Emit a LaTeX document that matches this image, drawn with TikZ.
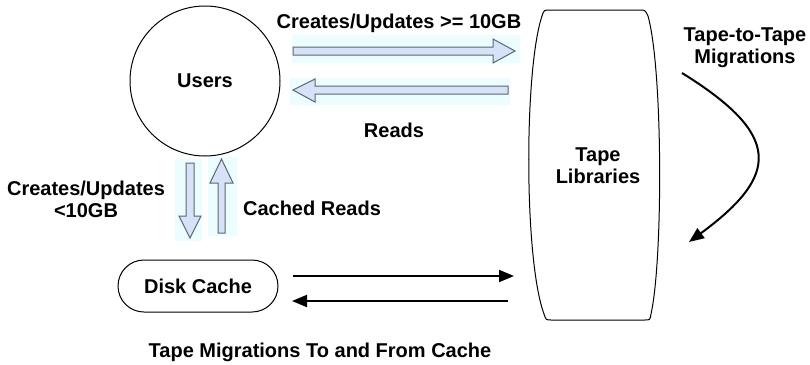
\documentclass[tikz,border=0pt]{standalone}
\usepackage{fontspec}
\setmainfont{Liberation Sans}
\usetikzlibrary{arrows.meta}
\definecolor{bgcyan}{HTML}{EBFDFF}
\definecolor{arrowfill}{HTML}{D5E2F7}
\definecolor{arrowdraw}{HTML}{5F6670}
\tikzset{
  lbl/.style={font=\bfseries\fontsize{20}{22}\selectfont, align=center, inner sep=0pt},
  blockarrow/.style={draw=arrowdraw, fill=arrowfill, line width=1pt, line join=miter},
  arrowbg/.style={fill=bgcyan},
  shapeline/.style={draw=black, line width=1pt},
  migr/.style={line width=2pt, -{Triangle[length=15pt,width=12pt]}},
}
\begin{document}
\begin{tikzpicture}[x=1pt,y=-1pt]
\useasboundingbox[fill=white] (0,0) rectangle (810,364);

% Users
\node[shapeline, circle, minimum size=150pt, lbl] (users) at (205,81) {Users};

% Tape libraries
\draw[shapeline] (550,10) -- (640,10) .. controls (645,10) .. (648,16)
  .. controls (663,70) and (663,260) .. (651,314)
  .. controls (650,320) .. (645,320) -- (551,320)
  .. controls (546,320) .. (544,314)
  .. controls (524,260) and (524,70) .. (542,16)
  .. controls (544,10) .. cycle;
\node[lbl] (tape) at (598,166) {Tape\\Libraries};

% Disk cache
\node[shapeline, rounded corners=26pt, minimum width=160pt, minimum height=52pt, lbl] (disk) at (198,286) {Disk Cache};

% block arrows: backgrounds
\fill[arrowbg] (292,35) rectangle (520,63);
\fill[arrowbg] (290,78) rectangle (510,105);
\fill[arrowbg] (175,159) rectangle (202,241);
\fill[arrowbg] (208,157) rectangle (237,236);

% block arrows
\draw[blockarrow] (293,47) -- (493,47) -- (493,39) -- (515,51) -- (493,63) -- (493,55) -- (293,55) -- cycle;
\draw[blockarrow] (508,86) -- (315,86) -- (315,79) -- (293,90) -- (315,102) -- (315,94) -- (508,94) -- cycle;
\draw[blockarrow] (186,163) -- (194,163) -- (194,216) -- (201,216) -- (190,238) -- (179,216) -- (186,216) -- cycle;
\draw[blockarrow] (218,233) -- (225,233) -- (225,183) -- (233,183) -- (221.5,159) -- (210,183) -- (218,183) -- cycle;

% labels
\node[lbl] (lcreate) at (399,23) {Creates/Updates >= 10GB};
\node[lbl] (lreads) at (394,130) {Reads};
\node[lbl] (lcsmall) at (86,199) {Creates/Updates\\<10GB};
\node[lbl] (lcached) at (312,208) {Cached Reads};
\node[lbl] (ltt) at (745,48) {Tape-to-Tape\\Migrations};
\node[lbl] (lmig) at (320,352) {Tape Migrations To and From Cache};

% migration arrows
\coordinate (m1a) at (293,276);
\coordinate (m1b) at (514,276);
\coordinate (m2a) at (508,301);
\coordinate (m2b) at (292,301);
\draw[migr] (m1a) -- (m1b);
\draw[migr] (m2a) -- (m2b);

% tape-to-tape curved arrow
\coordinate (tt1) at (682,73);
\coordinate (tt2) at (689,242);
\draw[migr] (tt1) .. controls (782,135) and (780,175) .. (tt2);
\end{tikzpicture}
\end{document}
